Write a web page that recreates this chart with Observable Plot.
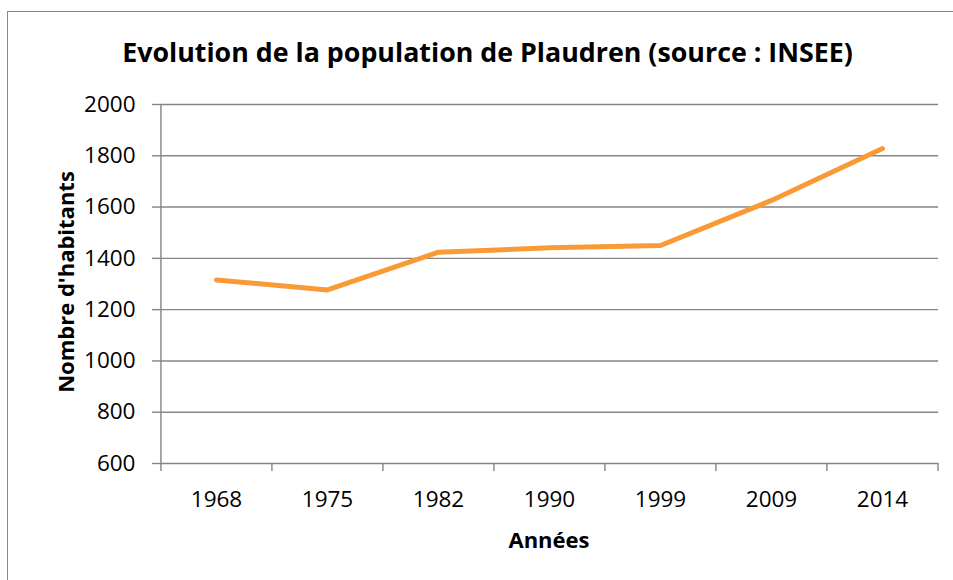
<!DOCTYPE html>
<html>
<head>
<meta charset="utf-8">
<script src="https://cdn.jsdelivr.net/npm/d3@7"></script>
<script src="https://cdn.jsdelivr.net/npm/@observablehq/plot@0.6"></script>
<style>
  html, body { margin: 0; padding: 0; background: #fff; overflow: hidden; }
  #wrap { position: relative; width: 953px; height: 580px; overflow: hidden; font-family: "Open Sans", sans-serif; color: #000; }
  #border { position: absolute; left: 7px; top: 11px; width: 1000px; height: 1000px; border: 1.5px solid #8a8a8a; box-sizing: border-box; }
  #chart { position: absolute; left: 0; top: 0; }
  .lbl { position: absolute; font-weight: bold; white-space: nowrap; line-height: normal; }
  #title { left: 487.5px; top: 33px; transform: translateX(-50%); font-size: 26.8px; }
  #xlabel { left: 549px; top: 523.5px; transform: translateX(-50%); font-size: 22px; }
  #ylabel { left: 65px; top: 282px; transform: translate(-50%, -50%) rotate(-90deg); font-size: 22px; }
</style>
</head>
<body>
<div id="wrap">
  <div id="border"></div>
  <div id="chart"></div>
  <div class="lbl" id="title">Evolution de la population de Plaudren (source : INSEE)</div>
  <div class="lbl" id="ylabel">Nombre d'habitants</div>
  <div class="lbl" id="xlabel">Années</div>
</div>
<script>
const years = ["1968", "1975", "1982", "1990", "1999", "2009", "2014"];
const population = [1316, 1277, 1424, 1441, 1450, 1626, 1828];
const yTicks = [600, 800, 1000, 1200, 1400, 1600, 1800, 2000];

const data = years.map((y, i) => ({year: y, pop: population[i]}));

const W = 953, H = 580, mL = 160, mR = 15, mT = 104, mB = 117;
const step = (W - mL - mR) / years.length;
const grey = "#858585";
const fs = 22.5;

const chart = Plot.plot({
  width: W,
  height: H,
  marginLeft: mL,
  marginRight: mR,
  marginTop: mT,
  marginBottom: mB,
  style: {fontFamily: "'Open Sans', sans-serif", fontSize: fs + "px", color: "#000", background: "transparent"},
  x: {type: "point", domain: years, padding: 0.5, label: null, axis: null},
  y: {domain: [600, 2000], label: null, axis: null},
  marks: [
    Plot.ruleY(yTicks, {stroke: grey, strokeWidth: 1.4}),
    Plot.ruleX([years[0]], {dx: -step / 2, stroke: grey, strokeWidth: 1.4}),
    Plot.axisY(yTicks, {anchor: "left", tickSize: 8, tickPadding: 17, stroke: grey, strokeWidth: 1.4, fill: "#000", fontSize: fs, tickFormat: d => String(d), label: null}),
    Plot.axisX(years, {anchor: "bottom", tickSize: 8, tickFormat: () => "", dx: -step / 2, stroke: grey, strokeWidth: 1.4, label: null}),
    Plot.axisX([years[years.length - 1]], {anchor: "bottom", tickSize: 8, tickFormat: () => "", dx: step / 2, stroke: grey, strokeWidth: 1.4, label: null}),
    Plot.axisX(years, {anchor: "bottom", tickSize: 0, tickPadding: 28, fill: "#000", fontSize: fs, label: null}),
    Plot.line(data, {x: "year", y: "pop", stroke: "#F99A36", strokeWidth: 5, strokeLinecap: "round", strokeLinejoin: "round"})
  ]
});
document.getElementById("chart").appendChild(chart);
</script>
</body>
</html>
